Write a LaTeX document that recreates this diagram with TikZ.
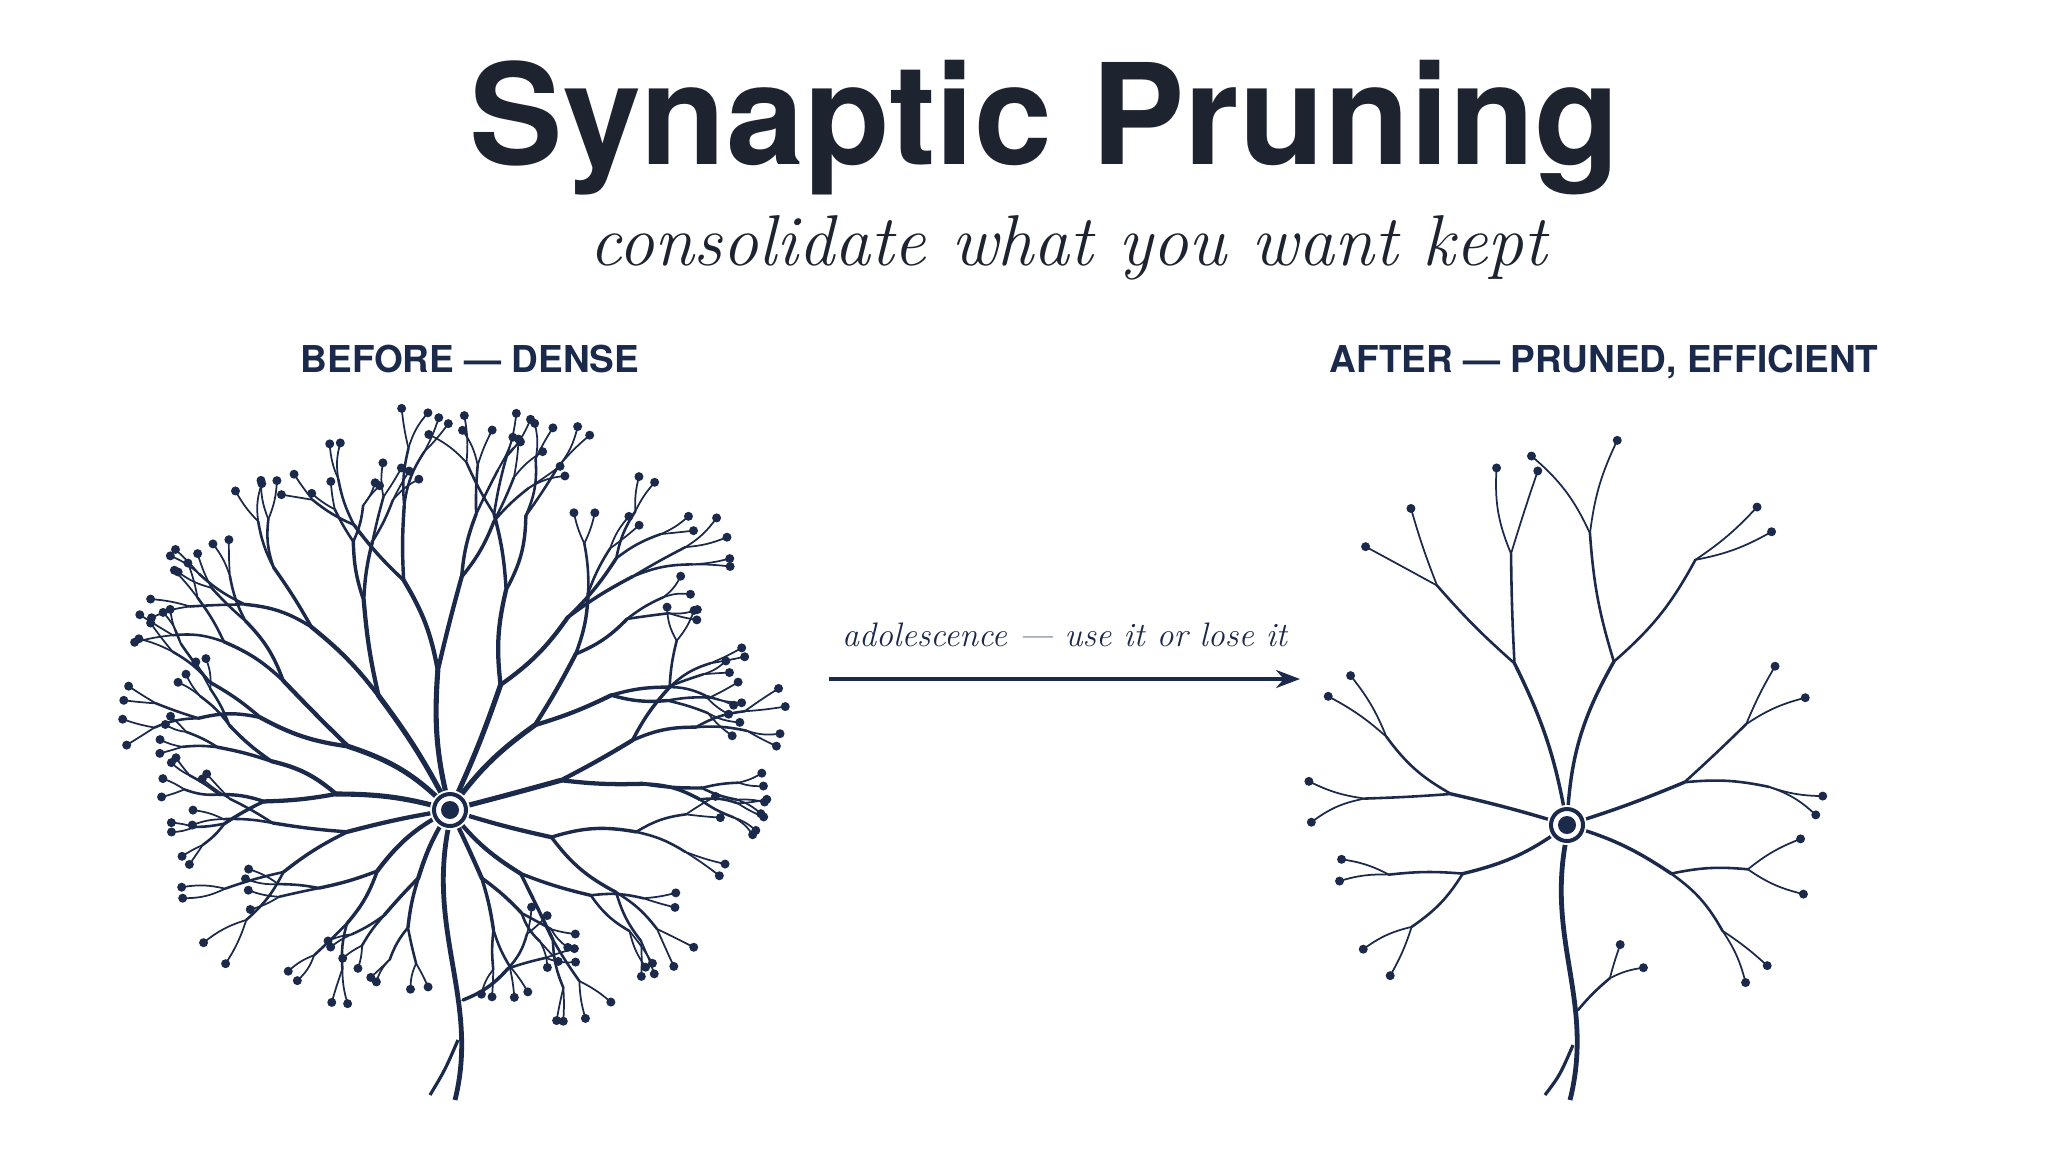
\documentclass[tikz,border=0pt]{standalone}
\usepackage{fontspec}
\newfontfamily\heros{TeX Gyre Heros}
\usetikzlibrary{arrows.meta}
\definecolor{navy}{HTML}{1B2A4A}
\definecolor{ink}{HTML}{1E2330}
\newcommand\dendr[6]{% x,y,ang,len,depth,spread
\begingroup
\edef\sx{#1}\edef\sy{#2}%
\pgfmathsetmacro\ex{\sx+#4*cos(#3)}%
\pgfmathsetmacro\ey{\sy+#4*sin(#3)}%
\pgfmathsetmacro\lw{0.45+0.42*#5}%
\pgfmathsetmacro\bd{rand*14}%
\draw[line width=\lw pt, line cap=round] (\sx,\sy) to[bend left=\bd] (\ex,\ey);
\ifnum#5>1
 \pgfmathsetmacro\aA{#3+#6+rand*8}%
 \pgfmathsetmacro\aB{#3-#6+rand*8}%
 \pgfmathsetmacro\nl{#4*(0.72+0.1*rand)}%
 \pgfmathtruncatemacro\nd{#5-1}%
 \dendr{\ex}{\ey}{\aA}{\nl}{\nd}{#6}%
 \dendr{\ex}{\ey}{\aB}{\nl}{\nd}{#6}%
\else
 \fill (\ex,\ey) circle[radius=4.5];
\fi
\endgroup}
\begin{document}
\begin{tikzpicture}[x=0.5pt,y=-0.5pt,navy,
  title/.style={font=\heros\bfseries\fontsize{70}{78}\selectfont,text=ink},
  lab/.style={font=\heros\bfseries\fontsize{18.5}{24}\selectfont},
  it/.style={font=\itshape}]
\fill[white] (0,0) rectangle (2048,1152);
\useasboundingbox (0,0) rectangle (2048,1152);
\pgfmathsetseed{11}
\node[title] (t) at (1045,128) {Synaptic Pruning};
\node[it,font=\itshape\fontsize{36}{40}\selectfont,text=ink] (s) at (1068,248) {consolidate what you want kept};
\node[lab] (b) at (470,359) {BEFORE — DENSE};
\node[lab] (a) at (1604,362) {AFTER — PRUNED, EFFICIENT};
\coordinate (p) at (829,679); \coordinate (q) at (1300,679);
\draw[line width=1.8pt,-{Stealth[length=12pt,width=9pt]}] (p) -- (q) node[midway,above=12pt,it,font=\itshape\fontsize{17}{20}\selectfont] (al) {adolescence — use it or lose it};
% neuron 1
\foreach \a/\l/\d in {-95/140/5,-68/135/5,-122/135/5,-45/120/5,-148/120/5,-15/115/5,-172/115/5,15/105/4,168/105/4,42/95/4,140/95/4,65/75/4,115/75/4}
  {\dendr{450}{810}{\a}{\l}{\d}{19}}
\draw[line width=2.4pt] (450,820) .. controls (425,930) and (480,1000) .. (455,1100);
\draw[line width=1.6pt] (458,1040) .. controls (445,1070) .. (430,1095);
\dendr{463}{1000}{-35}{55}{3}{22}
\fill[white] (450,810) circle[radius=20];
\draw[line width=2pt] (450,810) circle[radius=16];
\fill (450,810) circle[radius=9];
% neuron 2
\foreach \a/\l/\d in {-108/170/3,-74/170/3,-165/120/3,-20/125/3,155/115/3,25/115/3}
  {\dendr{1567}{825}{\a}{\l}{\d}{24}}
\draw[line width=2.4pt] (1567,835) .. controls (1545,940) and (1595,1000) .. (1570,1100);
\draw[line width=1.6pt] (1573,1045) .. controls (1560,1075) .. (1545,1095);
\dendr{1578}{1010}{-45}{45}{2}{22}
\fill[white] (1567,825) circle[radius=20];
\draw[line width=2pt] (1567,825) circle[radius=16];
\fill (1567,825) circle[radius=9];
\end{tikzpicture}
\end{document}
